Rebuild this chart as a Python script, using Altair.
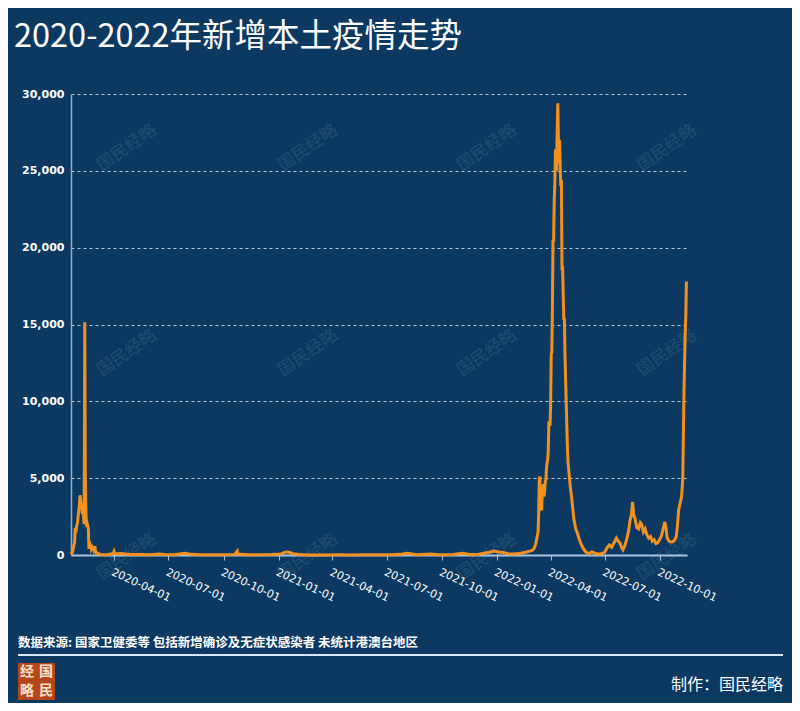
import altair as alt
import pandas as pd

# ---------------- data ----------------
dates = [
    "2020-01-20", "2020-01-21", "2020-01-22", "2020-01-23", "2020-01-24", "2020-01-25", "2020-01-26",
    "2020-01-27", "2020-01-28", "2020-01-29", "2020-01-30", "2020-01-31", "2020-02-01", "2020-02-02",
    "2020-02-03", "2020-02-04", "2020-02-05", "2020-02-06", "2020-02-07", "2020-02-08", "2020-02-09",
    "2020-02-10", "2020-02-11", "2020-02-12", "2020-02-13", "2020-02-14", "2020-02-15", "2020-02-16",
    "2020-02-17", "2020-02-18", "2020-02-19", "2020-02-20", "2020-02-21", "2020-02-22", "2020-02-23",
    "2020-02-24", "2020-02-25", "2020-02-26", "2020-02-27", "2020-02-28", "2020-02-29", "2020-03-01",
    "2020-03-02", "2020-03-04", "2020-03-06", "2020-03-09", "2020-03-13", "2020-03-20", "2020-03-27",
    "2020-03-31", "2020-04-01", "2020-04-02", "2020-04-06", "2020-04-12", "2020-04-20", "2020-05-01",
    "2020-05-15", "2020-06-01", "2020-06-14", "2020-06-25", "2020-07-10", "2020-07-28", "2020-08-05",
    "2020-08-20", "2020-09-10", "2020-10-01", "2020-10-20", "2020-10-24", "2020-10-25", "2020-11-10",
    "2020-12-01", "2020-12-20",
    "2021-01-05", "2021-01-10", "2021-01-14", "2021-01-19", "2021-01-25", "2021-02-05", "2021-02-20",
    "2021-03-15", "2021-04-10", "2021-05-01", "2021-05-25", "2021-06-10", "2021-07-10", "2021-07-28",
    "2021-08-03", "2021-08-10", "2021-08-20", "2021-09-13", "2021-09-25", "2021-10-20", "2021-11-05",
    "2021-11-15", "2021-12-01", "2021-12-12", "2021-12-20", "2021-12-27",
    "2022-01-03", "2022-01-10", "2022-01-20", "2022-01-28", "2022-02-08", "2022-02-18", "2022-02-25",
    "2022-03-01", "2022-03-04", "2022-03-07", "2022-03-09", "2022-03-10", "2022-03-11", "2022-03-12",
    "2022-03-13", "2022-03-14", "2022-03-15", "2022-03-16", "2022-03-17", "2022-03-18", "2022-03-19",
    "2022-03-20", "2022-03-21", "2022-03-22", "2022-03-23", "2022-03-24", "2022-03-25", "2022-03-26",
    "2022-03-27", "2022-03-28", "2022-03-29", "2022-03-30", "2022-03-31", "2022-04-01", "2022-04-02",
    "2022-04-03", "2022-04-04", "2022-04-05", "2022-04-06", "2022-04-07", "2022-04-08", "2022-04-09",
    "2022-04-10", "2022-04-11", "2022-04-12", "2022-04-13", "2022-04-14", "2022-04-15", "2022-04-16",
    "2022-04-17", "2022-04-18", "2022-04-19", "2022-04-20", "2022-04-21", "2022-04-22", "2022-04-23",
    "2022-04-24", "2022-04-25", "2022-04-26", "2022-04-27", "2022-04-28", "2022-04-29", "2022-04-30",
    "2022-05-02", "2022-05-04", "2022-05-06", "2022-05-08", "2022-05-10", "2022-05-13", "2022-05-16",
    "2022-05-19", "2022-05-22", "2022-05-26", "2022-05-30", "2022-06-04", "2022-06-09", "2022-06-14",
    "2022-06-19", "2022-06-24", "2022-06-30", "2022-07-04", "2022-07-08", "2022-07-12", "2022-07-16",
    "2022-07-20", "2022-07-23", "2022-07-26", "2022-07-29", "2022-07-31", "2022-08-03", "2022-08-06",
    "2022-08-09", "2022-08-12", "2022-08-14", "2022-08-16", "2022-08-18", "2022-08-20", "2022-08-23",
    "2022-08-26", "2022-08-29", "2022-08-31", "2022-09-03", "2022-09-06", "2022-09-09", "2022-09-12",
    "2022-09-15", "2022-09-18", "2022-09-21", "2022-09-24", "2022-09-27", "2022-09-30", "2022-10-03",
    "2022-10-06", "2022-10-09", "2022-10-11", "2022-10-13", "2022-10-16", "2022-10-19", "2022-10-22",
    "2022-10-25", "2022-10-28", "2022-10-30", "2022-11-01", "2022-11-03", "2022-11-06", "2022-11-08",
    "2022-11-09", "2022-11-10", "2022-11-12", "2022-11-13", "2022-11-14",
]
cases = [
    77, 149, 131, 259, 444, 688, 769,
    1771, 1459, 1737, 1982, 2102, 2590, 2829,
    3235, 3887, 3694, 3143, 3399, 2656, 3062,
    2478, 2015, 15152, 5090, 2641, 2009, 2048,
    1886, 1749, 394, 889, 397, 648, 409,
    508, 406, 433, 327, 427, 573, 202,
    125, 139, 99, 40, 11, 20, 60,
    130, 230, 90, 80, 100, 60, 30,
    25, 15, 60, 30, 20, 110, 70,
    20, 10, 10, 40, 250, 60, 20,
    20, 30,
    60, 150, 200, 180, 90, 30, 5,
    5, 10, 5, 20, 15, 10, 70,
    120, 80, 20, 60, 15, 30, 110,
    50, 40, 130, 180, 250,
    190, 180, 80, 60, 100, 180, 250,
    300, 400, 700, 1100, 1300, 1500, 2700,
    4900, 5100, 3500, 3200, 2900, 4200, 4400,
    4600, 3800, 4200, 4800, 4900, 5600, 6000,
    6200, 6700, 8600, 8600, 8400, 9800, 13100,
    13200, 16400, 20500, 20400, 23100, 24100, 26300,
    26400, 25000, 27700, 29400, 27000, 25500, 27000,
    25200, 24000, 24400, 18500, 18800, 17000, 15300,
    15400, 13000, 11500, 10000, 8500, 7100, 6100,
    5200, 4400, 3800, 3000, 2300, 1700, 1400,
    1000, 700, 400, 180, 90, 200, 120,
    60, 80, 150, 450, 650, 500, 800,
    1100, 900, 780, 450, 330, 600, 1000,
    1500, 2300, 2600, 3450, 2600, 2400, 1800,
    1700, 2100, 2000, 1500, 1700, 1300, 1100,
    1200, 900, 1000, 750, 800, 1000, 1200,
    1700, 2150, 1700, 1100, 900, 850, 870,
    950, 1200, 1900, 2900, 3300, 3800, 5000,
    8000, 10700, 14500, 15500, 17800,
]

y_ticks = [0, 5000, 10000, 15000, 20000, 25000, 30000]
x_tick_months = [(2020, 4), (2020, 7), (2020, 10), (2021, 1), (2021, 4), (2021, 7),
                 (2021, 10), (2022, 1), (2022, 4), (2022, 7), (2022, 10)]

title_text = "2020-2022年新增本土疫情走势"
source_text = "数据来源: 国家卫健委等 包括新增确诊及无症状感染者 未统计港澳台地区"
maker_text = "制作：国民经略"
watermark_text = "国民经略"

df = pd.DataFrame({"date": dates, "cases": cases})

# ---------------- styling ----------------
W, H = 616, 461
BG = "#0b3961"
LINE = "#f2911f"
FONT = "Noto Sans CJK SC"
NUMFONT = "DejaVu Sans"

x_enc = alt.X(
    "date:T",
    scale=alt.Scale(
        domain=[alt.DateTime(year=2020, month=1, date=20), alt.DateTime(year=2022, month=11, date=15)],
        nice=False,
    ),
    axis=alt.Axis(
        values=[alt.DateTime(year=yy, month=mm, date=1) for yy, mm in x_tick_months],
        format="%Y-%m-%d",
        labelAngle=25,
        labelAlign="left",
        labelBaseline="top",
        labelPadding=6,
        labelFont=NUMFONT,
        labelFontSize=11,
        labelColor="#ffffff",
        labelOverlap=False,
        labelFlush=False,
        tickColor="#a9c3dc",
        tickSize=5,
        domainColor="#a9c3dc",
        domainWidth=2,
        grid=False,
        title=None,
    ),
)

y_enc = alt.Y(
    "cases:Q",
    scale=alt.Scale(domain=[0, 30000], nice=False),
    axis=alt.Axis(
        values=y_ticks,
        format=",d",
        labelFont=NUMFONT,
        labelFontSize=11,
        labelFontWeight="bold",
        labelColor="#ffffff",
        labelPadding=7,
        ticks=False,
        domainColor="#8fb0cf",
        domainWidth=1.5,
        grid=True,
        gridColor="#d4e3f1",
        gridDash=[3, 3],
        gridWidth=1,
        gridOpacity=0.85,
        title=None,
    ),
)

line = alt.Chart(df).mark_line(color=LINE, strokeWidth=3).encode(x=x_enc, y=y_enc)

one = pd.DataFrame({"t": [0]})

# watermarks (decorative)
wm_x = [56, 237, 416, 596]
wm_y = [54, 259, 463]
wm_layers = []
for wx in wm_x:
    for wy in wm_y:
        wm_layers.append(
            alt.Chart(one).mark_text(
                text=watermark_text, angle=325, font=FONT, fontSize=17,
                color="#ffffff", opacity=0.09, align="center", baseline="middle",
            ).encode(x=alt.value(wx), y=alt.value(wy))
        )

title = alt.Chart(one).mark_text(
    text=title_text, font=FONT, fontSize=32.5, color="#ffffff", align="left", baseline="middle",
).encode(x=alt.value(-57), y=alt.value(-57))

source = alt.Chart(one).mark_text(
    text=source_text, font=FONT, fontSize=12.5, fontWeight="bold", color="#ffffff",
    align="left", baseline="middle",
).encode(x=alt.value(-53), y=alt.value(549))

rule = alt.Chart(one).mark_rule(color="#dbe7f3", strokeWidth=2).encode(
    x=alt.value(-53), x2=alt.value(712), y=alt.value(561)
)

maker = alt.Chart(one).mark_text(
    text=maker_text, font=FONT, fontSize=16, color="#ffffff", align="right", baseline="middle",
).encode(x=alt.value(712), y=alt.value(591))

logo_box = alt.Chart(one).mark_rect(color="#b5471b").encode(
    x=alt.value(-53), x2=alt.value(-16), y=alt.value(569), y2=alt.value(606)
)
logo_chars = [("经", -44, 578), ("国", -25, 578), ("略", -44, 597), ("民", -25, 597)]
logo_layers = [
    alt.Chart(one).mark_text(
        text=ch, font=FONT, fontSize=14, fontWeight="bold", color="#f7e3cc",
        align="center", baseline="middle",
    ).encode(x=alt.value(cx), y=alt.value(cy))
    for ch, cx, cy in logo_chars
]

chart = alt.layer(
    *wm_layers, line, title, source, rule, maker, logo_box, *logo_layers
).properties(
    width=W,
    height=H,
    padding={"left": 63, "top": 86, "right": 105, "bottom": 148},
    autosize=alt.AutoSizeParams(type="none"),
    background=BG,
).configure_view(stroke=None)

chart.save("out.html", embed_options={"renderer": "svg", "actions": False})
